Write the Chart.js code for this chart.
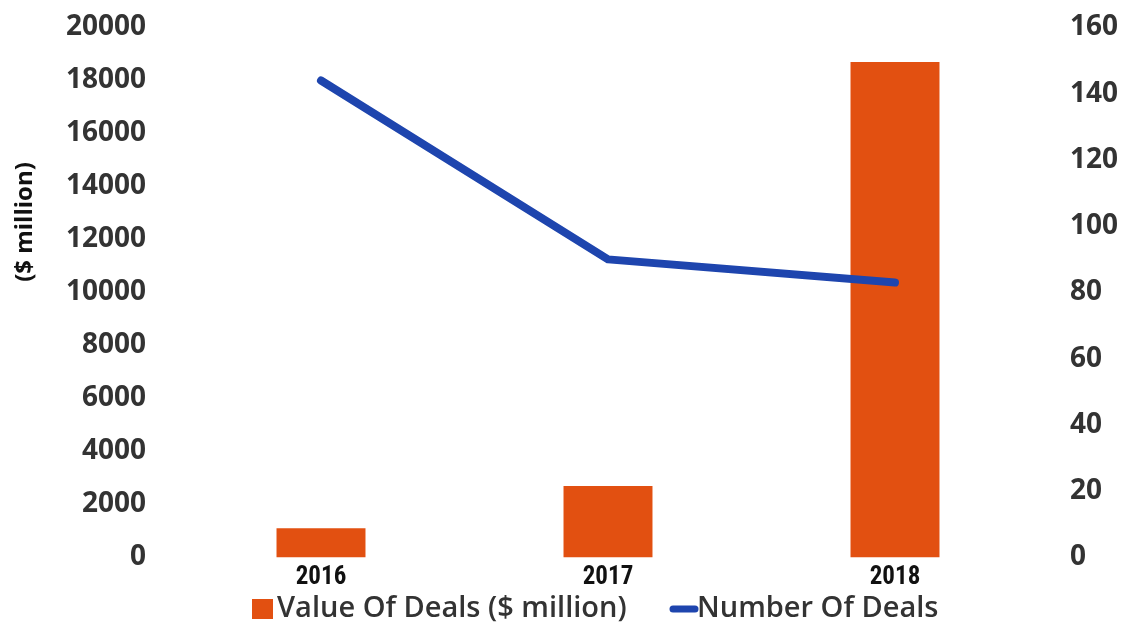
<!DOCTYPE html>
<html>
<head>
<meta charset="utf-8">
<script src="https://cdn.jsdelivr.net/npm/chart.js@4.4.0/dist/chart.umd.min.js"></script>
<style>
  html, body { margin: 0; padding: 0; background: #ffffff; }
  #wrap { width: 1126px; height: 624px; }
</style>
</head>
<body>
<div id="wrap"><canvas id="c" width="1126" height="624"></canvas></div>
<script>
const categories = ['2016', '2017', '2018'];
const valueOfDeals = [1100, 2700, 18700];
const numberOfDeals = [144, 90, 83];
const leftTicks = [0, 2000, 4000, 6000, 8000, 10000, 12000, 14000, 16000, 18000, 20000];
const rightTicks = [0, 20, 40, 60, 80, 100, 120, 140, 160];
const seriesLabels = ['Value Of Deals ($ million)', 'Number Of Deals'];
const leftAxisTitle = '($ million)';

const BAR_COLOR = '#E25011';
const LINE_COLOR = '#1E45AE';
const TICK_COLOR = '#333333';

const titlePlugin = {
  id: 'leftTitle',
  afterDraw(chart) {
    const ctx = chart.ctx;
    ctx.save();
    ctx.translate(25, 222);
    ctx.rotate(-Math.PI / 2);
    ctx.font = 'bold 24px "Open Sans"';
    ctx.fillStyle = '#111111';
    ctx.textAlign = 'center';
    ctx.textBaseline = 'middle';
    ctx.fillText(leftAxisTitle, 0, 0);
    ctx.restore();
  }
};

const legendPlugin = {
  id: 'customLegend',
  afterDraw(chart) {
    const ctx = chart.ctx;
    const ds = chart.data.datasets;
    const barDs = ds.find(d => d.type === 'bar');
    const lineDs = ds.find(d => d.type === 'line');
    ctx.save();
    ctx.font = '600 29px "Open Sans"';
    ctx.textBaseline = 'middle';
    ctx.textAlign = 'left';
    const y = 609;
    ctx.fillStyle = barDs.backgroundColor;
    ctx.fillRect(252, 599, 21, 20);
    ctx.fillStyle = TICK_COLOR;
    ctx.fillText(barDs.label, 277, y);
    ctx.strokeStyle = lineDs.borderColor;
    ctx.lineWidth = 7;
    ctx.lineCap = 'round';
    ctx.beginPath();
    ctx.moveTo(673, y);
    ctx.lineTo(695, y);
    ctx.stroke();
    ctx.fillText(lineDs.label, 697, y);
    ctx.restore();
  }
};

function noPad(scale) {
  scale.paddingTop = 0;
  scale.paddingBottom = 0;
}

new Chart(document.getElementById('c'), {
  data: {
    labels: categories,
    datasets: [
      {
        type: 'line',
        label: seriesLabels[1],
        data: numberOfDeals,
        yAxisID: 'y1',
        borderColor: LINE_COLOR,
        backgroundColor: LINE_COLOR,
        borderWidth: 8,
        borderCapStyle: 'round',
        borderJoinStyle: 'round',
        pointRadius: 0,
        tension: 0,
        order: 0
      },
      {
        type: 'bar',
        label: seriesLabels[0],
        data: valueOfDeals,
        yAxisID: 'y',
        backgroundColor: BAR_COLOR,
        borderWidth: 0,
        barPercentage: 0.31,
        categoryPercentage: 1.0,
        order: 1
      }
    ]
  },
  options: {
    responsive: false,
    animation: false,
    devicePixelRatio: 1,
    layout: { padding: { top: 27.5, left: 0, right: 0, bottom: 0 } },
    plugins: {
      legend: { display: false },
      tooltip: { enabled: false },
      title: { display: false }
    },
    scales: {
      x: {
        type: 'category',
        offset: true,
        grid: { display: false, drawTicks: false },
        border: { display: false },
        ticks: {
          padding: 5,
          color: '#111111',
          font: { family: '"Roboto Condensed", "Roboto", sans-serif', weight: 'bold', size: 25 }
        },
        afterFit(scale) { scale.height = 66.5; scale.paddingLeft = 0; scale.paddingRight = 0; }
      },
      y: {
        type: 'linear',
        position: 'left',
        min: 0,
        max: 20000,
        grid: { display: false, drawTicks: false },
        border: { display: false },
        afterBuildTicks(scale) { scale.ticks = leftTicks.map(v => ({ value: v })); },
        ticks: {
          padding: 31.5,
          color: TICK_COLOR,
          font: { family: '"Open Sans"', weight: 'bold', size: 28 },
          callback: (v) => String(v)
        },
        afterFit(scale) { scale.width = 177.5; noPad(scale); }
      },
      y1: {
        type: 'linear',
        position: 'right',
        min: 0,
        max: 160,
        grid: { display: false, drawTicks: false },
        border: { display: false },
        afterBuildTicks(scale) { scale.ticks = rightTicks.map(v => ({ value: v })); },
        ticks: {
          padding: 31.5,
          color: TICK_COLOR,
          font: { family: '"Open Sans"', weight: 'bold', size: 28 },
          callback: (v) => String(v)
        },
        afterFit(scale) { scale.width = 87.5; noPad(scale); }
      }
    }
  },
  plugins: [titlePlugin, legendPlugin]
});
</script>
</body>
</html>
